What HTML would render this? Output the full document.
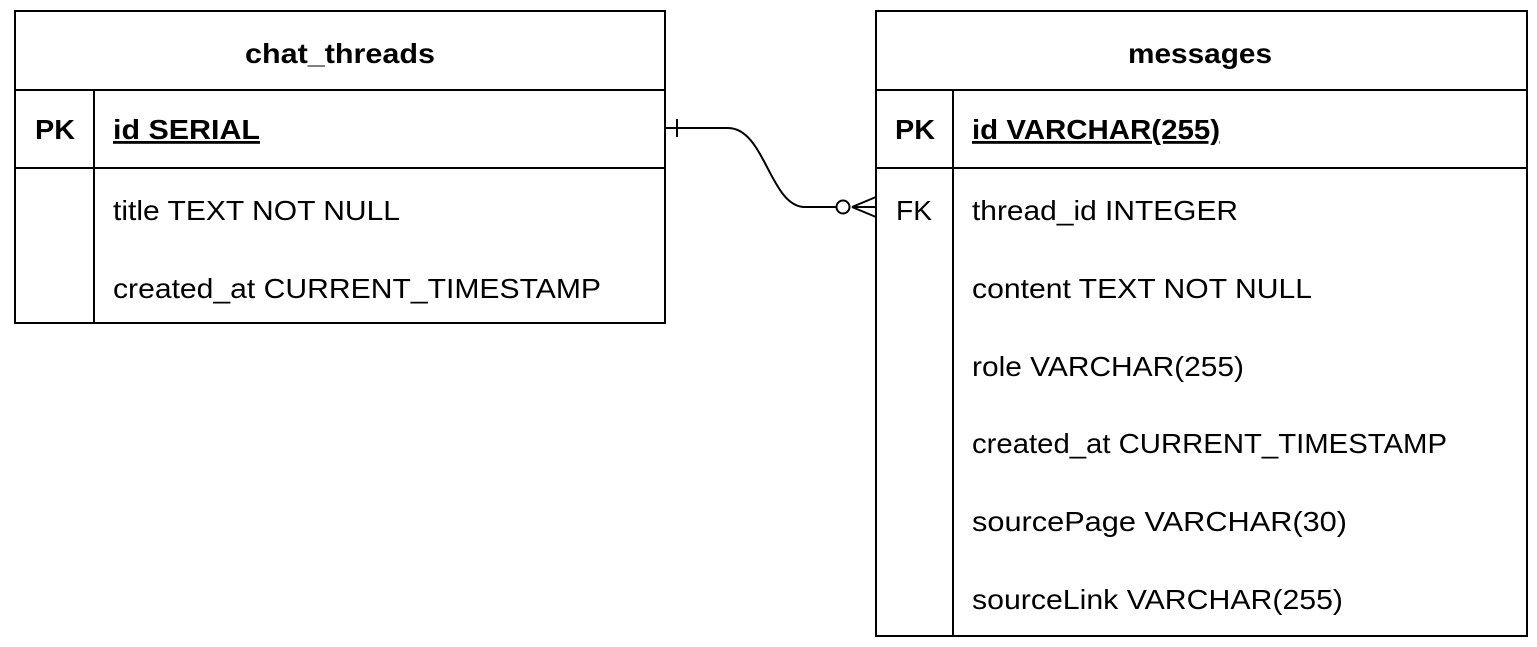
<!DOCTYPE html>
<html><head><meta charset="utf-8"><style>
html,body{margin:0;padding:0;background:#fff;}
svg{display:block;}
text{font-family:"Liberation Sans",Arial,sans-serif;fill:#000;}
.h{font-size:28px;font-weight:bold;}
.b{font-size:28px;}
</style></head><body>
<svg width="1537" height="647" viewBox="0 0 1537 647" xmlns="http://www.w3.org/2000/svg">
<g fill="none" stroke="#000" stroke-width="2">
<rect x="15" y="11" width="650" height="312"/>
<line x1="15" y1="90" x2="665" y2="90"/>
<line x1="15" y1="168" x2="665" y2="168"/>
<line x1="94" y1="90" x2="94" y2="323"/>
<rect x="876" y="11" width="651" height="625"/>
<line x1="876" y1="90" x2="1527" y2="90"/>
<line x1="876" y1="168" x2="1527" y2="168"/>
<line x1="953" y1="90" x2="953" y2="636"/>
<path d="M665 128 L728 128 C765 128 770 207 805 207 L836 207"/>
<line x1="677" y1="119" x2="677" y2="137"/>
<circle cx="843" cy="207" r="6.5"/>
<line x1="852" y1="207" x2="876" y2="197"/>
<line x1="852" y1="207" x2="876" y2="207"/>
<line x1="852" y1="207" x2="876" y2="217"/>
</g>
<text class="h" x="245" y="63" textLength="190" lengthAdjust="spacingAndGlyphs">chat_threads</text>
<text class="h" x="1128" y="63" textLength="144" lengthAdjust="spacingAndGlyphs">messages</text>
<text class="h" x="35" y="139" textLength="40" lengthAdjust="spacingAndGlyphs">PK</text>
<text class="h" x="113" y="139" textLength="147" lengthAdjust="spacingAndGlyphs" text-decoration="underline">id SERIAL</text>
<text class="b" x="113" y="220" textLength="287" lengthAdjust="spacingAndGlyphs">title TEXT NOT NULL</text>
<text class="b" x="113" y="298" textLength="488" lengthAdjust="spacingAndGlyphs">created_at CURRENT_TIMESTAMP</text>
<text class="h" x="895" y="139" textLength="40" lengthAdjust="spacingAndGlyphs">PK</text>
<text class="h" x="972" y="139" textLength="248" lengthAdjust="spacingAndGlyphs" text-decoration="underline">id VARCHAR(255)</text>
<text class="b" x="896" y="220" textLength="36" lengthAdjust="spacingAndGlyphs">FK</text>
<text class="b" x="972" y="220" textLength="266" lengthAdjust="spacingAndGlyphs">thread_id INTEGER</text>
<text class="b" x="972" y="298" textLength="340" lengthAdjust="spacingAndGlyphs">content TEXT NOT NULL</text>
<text class="b" x="972" y="376" textLength="272" lengthAdjust="spacingAndGlyphs">role VARCHAR(255)</text>
<text class="b" x="972" y="453" textLength="475" lengthAdjust="spacingAndGlyphs">created_at CURRENT_TIMESTAMP</text>
<text class="b" x="972" y="531" textLength="375" lengthAdjust="spacingAndGlyphs">sourcePage VARCHAR(30)</text>
<text class="b" x="972" y="609" textLength="371" lengthAdjust="spacingAndGlyphs">sourceLink VARCHAR(255)</text>
</svg>
</body></html>
